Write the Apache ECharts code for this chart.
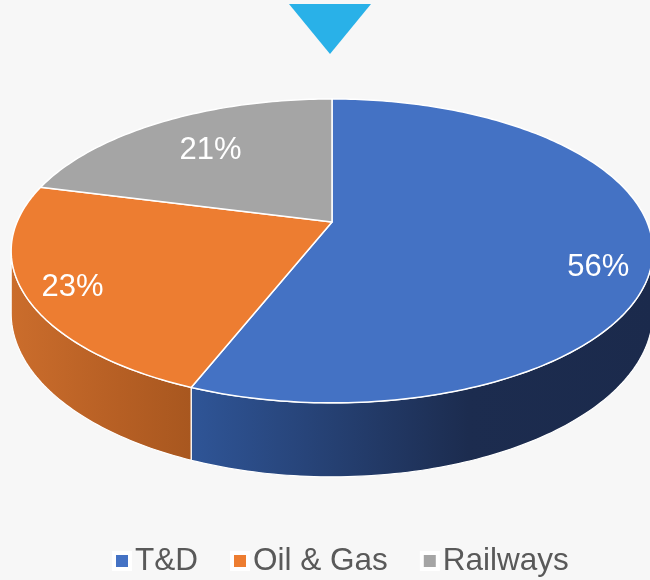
<!DOCTYPE html>
<html>
<head>
<meta charset="utf-8">
<script src="https://cdn.jsdelivr.net/npm/echarts@6/dist/echarts.min.js"></script>
<style>
  html, body { margin: 0; padding: 0; background: #f7f7f7; }
  #chart { width: 650px; height: 580px; }
</style>
</head>
<body>
<div id="chart"></div>
<script>
const categories = ['T&D', 'Oil & Gas', 'Railways'];
const shares = [56, 23, 21];
const topColors = ['#4472c4', '#ed7d31', '#a5a5a5'];
const sideColors = [['#2f5597', '#1c2c4f', '#1b2a4c'], ['#cb6d2c', '#b65f24', '#a8571f'], ['#8c8c8c', '#7a7a7a', '#6f6f6f']];

// 3d look: hub position, projected radii, perspective factor, rim depth
const HUB_X = 332, HUB_Y = 222, SX = 315, SY = 146.5, K = 0.19, DEPTH = 74;
// small hand nudges for the percent labels (best-fit placement)
const labelNudge = [[-5, 21], [-2, 4], [24, 16]];
const SIL = Math.acos(-K) * 180 / Math.PI; // where the rim turns away
const total = shares.reduce((s, v) => s + v, 0);
const starts = shares.map((v, i) => shares.slice(0, i).reduce((s, x) => s + x, 0));

function project(deg, r) {
  const t = deg * Math.PI / 180;
  const d = 1 + K * r * Math.cos(t);
  return [HUB_X + SX * r * Math.sin(t) / d, HUB_Y - SY * r * Math.cos(t) / d];
}
function depthAt(deg) {
  return DEPTH * (1 - K) / (1 + K * Math.cos(deg * Math.PI / 180));
}
function arc(a, b, drop) {
  const pts = [];
  const n = Math.max(2, Math.ceil(b - a));
  for (let j = 0; j <= n; j++) {
    const d = a + (b - a) * j / n;
    const p = project(d, 1);
    pts.push(drop ? [p[0], p[1] + depthAt(d)] : p);
  }
  return pts;
}

function renderSlice(params, api) {
  const i = params.seriesIndex;
  const a0 = starts[i] / total * 360;
  const a1 = a0 + api.value(0) / total * 360;
  const children = [];
  const lo = Math.max(a0, SIL), hi = Math.min(a1, 360 - SIL);
  if (hi > lo) {
    const pts = arc(lo, hi, false).concat(arc(lo, hi, true).reverse());
    children.push({
      type: 'polygon', z2: 1,
      shape: { points: pts },
      style: {
        fill: new echarts.graphic.LinearGradient(0, 0, 1, 0, [
          { offset: 0, color: sideColors[i][0] },
          { offset: 0.6, color: sideColors[i][1] },
          { offset: 1, color: sideColors[i][2] }
        ]),
        stroke: '#ffffff', lineWidth: 1.2
      }
    });
  }
  children.push({
    type: 'polygon', z2: 2,
    shape: { points: [[HUB_X, HUB_Y]].concat(arc(a0, a1, false)) },
    style: { fill: topColors[i], stroke: '#ffffff', lineWidth: 1.5, lineJoin: 'round' }
  });
  const lp = project((a0 + a1) / 2, 0.85);
  children.push({
    type: 'text', z2: 3, x: lp[0] + labelNudge[i][0], y: lp[1] + labelNudge[i][1],
    style: {
      text: Math.round(api.value(0) / total * 100) + '%',
      fill: '#ffffff', fontSize: 31, fontFamily: 'Liberation Sans',
      align: 'center', verticalAlign: 'middle'
    }
  });
  return { type: 'group', children: children };
}

const chart = echarts.init(document.getElementById('chart'));
chart.setOption({
  backgroundColor: '#f7f7f7',
  animation: false,
  graphic: [{
    type: 'polygon',
    shape: { points: [[289, 4], [371, 4], [330, 54]] },
    style: { fill: '#29b1e8' }
  }],
  legend: {
    left: 107, top: 540,
    icon: 'rect', itemWidth: 16, itemHeight: 16, itemGap: 32,
    itemStyle: { borderColor: '#ffffff', borderWidth: 4 },
    textStyle: { fontSize: 31.5, color: '#595959', fontFamily: 'Liberation Sans' },
    data: categories
  },
  series: categories.map((name, i) => ({
    type: 'custom',
    name: name,
    coordinateSystem: 'none',
    itemStyle: { color: topColors[i] },
    renderItem: renderSlice,
    data: [[shares[i]]]
  }))
});
window.addEventListener('resize', function () { chart.resize(); });
</script>
</body>
</html>
